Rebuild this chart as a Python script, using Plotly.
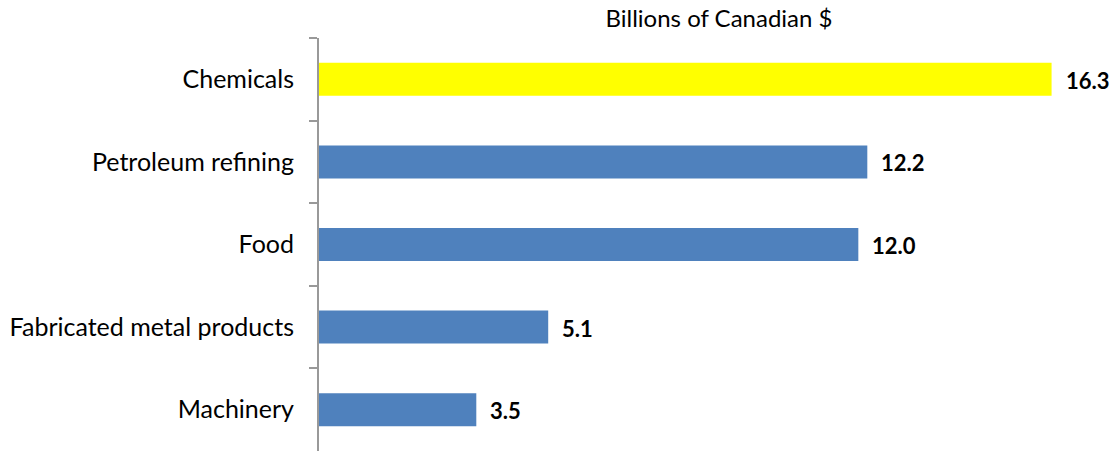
import plotly.graph_objects as go

# Industry categories and values (billions of Canadian dollars)
categories = ["Chemicals", "Petroleum refining", "Food", "Fabricated metal products", "Machinery"]
values = [16.3, 12.2, 12.0, 5.1, 3.5]
bar_colors = ["#FFFF00", "#4F81BD", "#4F81BD", "#4F81BD", "#4F81BD"]
value_labels = [f"{v:.1f}" for v in values]

FONT = "Lato"

fig = go.Figure()
fig.add_trace(go.Bar(
    x=values,
    y=categories,
    orientation="h",
    marker=dict(color=bar_colors, line=dict(width=0)),
    hoverinfo="x+y",
))

# Bold value labels just past each bar end
for cat, v, lab in zip(categories, values, value_labels):
    fig.add_annotation(
        x=v, y=cat, text=f"<b>{lab}</b>", showarrow=False,
        xanchor="left", xshift=12, yshift=-1,
        font=dict(family=FONT, size=22, color="#000000"),
    )

fig.update_layout(
    width=1119, height=452,
    margin=dict(l=319, r=0, t=38, b=1),
    paper_bgcolor="white", plot_bgcolor="white",
    bargap=0.6,
    showlegend=False,
    title=dict(
        text="Billions of Canadian $",
        x=0.5, xref="paper", xanchor="center",
        y=1 - 19 / 452, yref="container", yanchor="middle",
        font=dict(family=FONT, size=24, color="#000000"),
    ),
    xaxis=dict(
        range=[0, 17.8], visible=False, showgrid=False, zeroline=False,
    ),
    yaxis=dict(
        categoryorder="array", categoryarray=categories, autorange="reversed",
        showline=True, linecolor="#999999", linewidth=2,
        ticks="outside", tickson="boundaries", ticklen=8, tickwidth=2,
        tickcolor="#999999", ticklabelstandoff=18,
        showgrid=False, zeroline=False,
        tickfont=dict(family=FONT, size=25, color="#000000"),
    ),
)

fig.write_html("out.html")
